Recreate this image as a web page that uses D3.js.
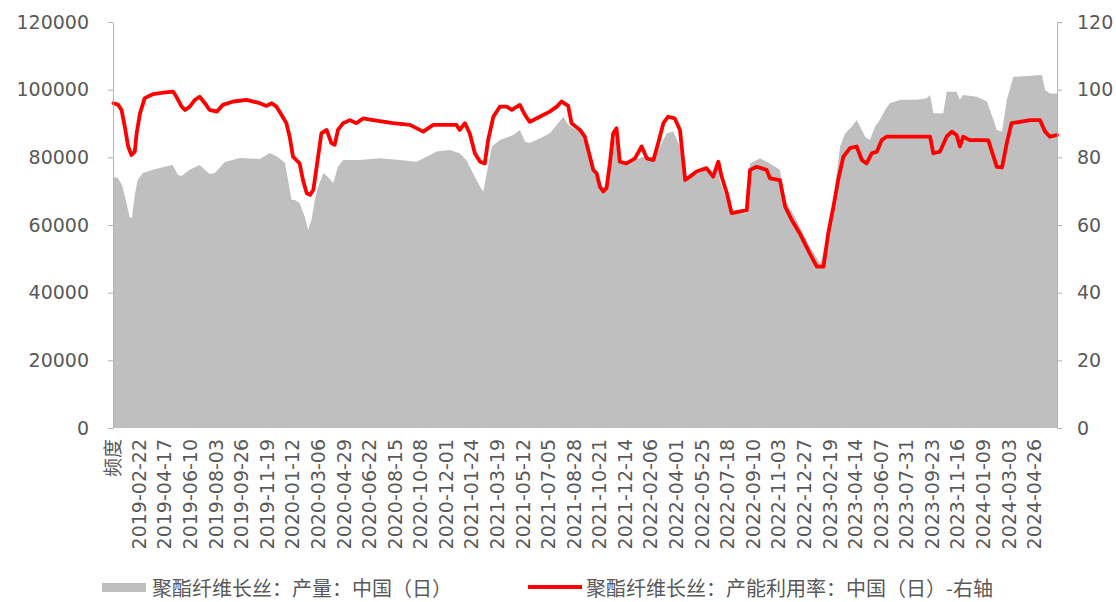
<!DOCTYPE html>
<html>
<head>
<meta charset="utf-8">
<script src="https://cdn.jsdelivr.net/npm/d3@7"></script>
<style>
  html, body { margin: 0; padding: 0; background: #fff; }
  svg { display: block; }
</style>
</head>
<body>
<svg id="chart" width="1116" height="602"></svg>
<script>
// Category axis: the header cell "频度" followed by one category per calendar day
const headerLabel = "频度";
const firstDay = "2018-12-31";
const lastDay = "2024-06-14";
const labelStep = 54;

// 聚酯纤维长丝：产量 (left axis)
const prodDates = [
  "2018-12-31","2019-01-09","2019-01-18","2019-01-26","2019-02-03","2019-02-08","2019-02-14","2019-02-20",
  "2019-03-03","2019-03-24","2019-04-23","2019-05-05","2019-05-16","2019-05-24","2019-06-10","2019-07-01",
  "2019-07-22","2019-08-02","2019-08-23","2019-09-24","2019-11-05","2019-11-26","2019-12-13","2019-12-28",
  "2020-01-04","2020-01-11","2020-01-18","2020-01-28","2020-02-08","2020-02-15","2020-02-22","2020-02-29",
  "2020-03-07","2020-03-18","2020-03-28","2020-04-08","2020-04-18","2020-04-29","2020-06-03","2020-07-15",
  "2020-08-27","2020-10-01","2020-10-22","2020-11-12","2020-12-10","2020-12-31","2021-01-14","2021-01-28",
  "2021-02-12","2021-02-19","2021-02-26","2021-03-09","2021-03-26","2021-04-23","2021-05-07","2021-05-18",
  "2021-05-28","2021-06-18","2021-07-09","2021-07-24","2021-08-07","2021-08-17","2021-08-28","2021-09-11",
  "2021-09-25","2021-10-09","2021-10-23","2021-11-06","2021-11-13","2021-11-20","2021-11-27","2021-12-04",
  "2021-12-18","2022-01-22","2022-02-13","2022-02-27","2022-03-13","2022-03-27","2022-04-10","2022-04-21",
  "2022-05-08","2022-06-05","2022-06-19","2022-06-30","2022-07-03","2022-07-18","2022-08-01","2022-08-29",
  "2022-09-05","2022-09-26","2022-10-17","2022-11-07","2022-11-18","2022-12-12","2023-01-09","2023-01-31",
  "2023-02-14","2023-02-28","2023-03-14","2023-03-25","2023-04-08","2023-04-18","2023-04-25","2023-05-06",
  "2023-05-16","2023-05-27","2023-06-06","2023-06-17","2023-06-27","2023-07-19","2023-08-23","2023-09-13",
  "2023-09-20","2023-09-27","2023-10-18","2023-10-25","2023-11-15","2023-11-22","2023-11-29","2023-12-28",
  "2024-01-18","2024-02-01","2024-02-08","2024-02-19","2024-02-29","2024-03-14","2024-05-13","2024-05-20",
  "2024-05-30","2024-06-14"
];
const prodValues = [
  74200,73900,71800,67400,62400,62100,68900,73300,
  75400,76300,77400,77700,74800,74500,76300,77700,
  75100,75400,78600,79800,79500,81300,80100,78300,
  73000,67400,67400,66500,62400,58500,61500,67400,
  71200,75400,74200,72400,77200,79200,79200,79700,
  79200,78700,80200,81700,82200,81200,79200,75300,
  71300,69900,75300,83200,85100,86600,88100,84600,
  84200,85600,87100,89600,92000,89600,88600,87600,
  83200,76300,71300,71300,78000,84500,85500,79000,
  78200,80200,79200,83200,87100,87600,83200,73300,
  74600,76300,75000,78000,73300,67400,63500,63500,
  78200,79700,78200,76300,67400,61500,53600,48700,
  55600,67400,83200,87100,89100,91000,89100,86100,
  85100,89100,91000,94000,96000,97000,97000,97500,
  98400,93000,93000,99400,99400,97000,98400,97900,
  96500,91000,88100,87600,97000,103800,104300,99900,
  98900,98900
];

// 聚酯纤维长丝：产能利用率 (right axis, %)
const rateDates = [
  "2018-12-31","2019-01-10","2019-01-17","2019-01-24","2019-01-31","2019-02-07","2019-02-14","2019-02-18",
  "2019-02-25","2019-03-07","2019-03-25","2019-04-15","2019-05-06","2019-05-13","2019-05-24","2019-05-31",
  "2019-06-10","2019-06-21","2019-07-01","2019-07-12","2019-07-22","2019-08-06","2019-08-19","2019-09-10",
  "2019-10-08","2019-11-05","2019-11-19","2019-11-30","2019-12-10","2019-12-21","2019-12-31","2020-01-07",
  "2020-01-14","2020-01-21","2020-01-28","2020-02-04","2020-02-12","2020-02-19","2020-02-26","2020-03-04",
  "2020-03-14","2020-03-25","2020-04-04","2020-04-11","2020-04-18","2020-04-29","2020-05-13","2020-05-27",
  "2020-06-10","2020-07-01","2020-08-12","2020-09-17","2020-10-15","2020-11-05","2020-12-24","2020-12-31",
  "2021-01-11","2021-01-21","2021-02-01","2021-02-12","2021-02-22","2021-03-01","2021-03-12","2021-03-26",
  "2021-04-09","2021-04-20","2021-05-07","2021-05-18","2021-05-28","2021-06-18","2021-07-09","2021-07-24",
  "2021-08-03","2021-08-17","2021-08-24","2021-09-11","2021-09-21","2021-10-02","2021-10-09","2021-10-16",
  "2021-10-23","2021-10-30","2021-11-06","2021-11-13","2021-11-20","2021-11-27","2021-12-04","2021-12-18",
  "2022-01-05","2022-01-19","2022-01-30","2022-02-13","2022-02-23","2022-03-06","2022-03-16","2022-03-30",
  "2022-04-10","2022-04-21","2022-05-01","2022-05-15","2022-06-05","2022-06-19","2022-06-30","2022-07-07",
  "2022-07-18","2022-07-28","2022-08-29","2022-09-05","2022-09-19","2022-10-10","2022-10-17","2022-11-07",
  "2022-11-18","2022-12-02","2022-12-19","2023-01-09","2023-01-24","2023-02-07","2023-02-17","2023-02-28",
  "2023-03-10","2023-03-21","2023-04-04","2023-04-18","2023-04-29","2023-05-09","2023-05-20","2023-05-31",
  "2023-06-10","2023-06-20","2023-09-20","2023-09-27","2023-10-11","2023-10-25","2023-11-05","2023-11-15",
  "2023-11-22","2023-11-29","2023-12-13","2024-01-10","2024-01-21","2024-02-01","2024-02-08","2024-02-19",
  "2024-02-29","2024-03-10","2024-03-28","2024-04-18","2024-05-09","2024-05-20","2024-05-30","2024-06-14"
];
const rateValues = [
  96.0,95.5,94.0,89.0,83.2,80.7,81.7,87.2,
  93.0,97.5,98.7,99.1,99.4,97.9,95.0,94.0,
  95.0,97.0,97.9,96.0,94.0,93.5,95.5,96.5,
  97.0,96.0,95.2,96.0,95.0,92.5,90.1,86.1,
  80.2,79.2,78.2,73.3,69.4,68.9,70.4,77.2,
  87.1,88.1,84.2,83.7,88.1,90.1,91.0,90.1,
  91.5,91.0,90.1,89.6,87.6,89.6,89.6,88.1,
  90.1,87.1,81.2,78.7,78.2,85.1,92.0,95.0,
  95.0,94.0,95.5,92.5,90.5,92.0,93.5,95.0,
  96.5,95.2,90.1,88.1,86.1,80.2,76.3,75.3,
  71.3,69.9,70.9,78.2,87.1,88.6,78.7,78.2,
  79.7,83.2,79.7,79.2,84.2,90.1,92.0,91.5,
  88.1,73.3,74.3,75.8,76.8,74.3,78.7,74.3,
  69.4,63.5,64.4,76.3,77.2,76.3,73.8,73.3,
  65.4,61.5,57.5,51.6,47.7,47.7,57.5,65.4,
  73.3,80.2,82.7,83.2,79.2,78.2,81.2,81.7,
  85.1,86.1,86.1,81.2,81.7,86.1,87.6,86.6,
  83.2,86.1,85.1,85.1,85.0,80.2,77.2,77.0,
  84.2,90.1,90.5,91.0,91.0,87.6,86.1,86.6
];

const leftTicks = [0, 20000, 40000, 60000, 80000, 100000, 120000];
const rightTicks = [0, 20, 40, 60, 80, 100, 120];
const prodName = "聚酯纤维长丝：产量：中国（日）";
const rateName = "聚酯纤维长丝：产能利用率：中国（日）-右轴";

// ---- drawing ----
const svg = d3.select("#chart");
const numFont = "'DejaVu Sans', 'Noto Sans CJK SC', sans-serif";
const cjkFont = "'Noto Sans CJK SC', 'DejaVu Sans', sans-serif";
const textColor = "#595959";
const axisColor = "#b4b4b4";

const fmt = d3.utcFormat("%Y-%m-%d");
const parse = d3.utcParse("%Y-%m-%d");
const days = d3.utcDay.range(parse(firstDay), d3.utcDay.offset(parse(lastDay), 1)).map(fmt);
const categories = [headerLabel, ...days];

const plot = { left: 113, right: 1057, top: 22, bottom: 428 };
const x = d3.scalePoint().domain(categories).range([plot.left, plot.right]);
const yL = d3.scaleLinear().domain([0, 120000]).range([plot.bottom, plot.top]);
const yR = d3.scaleLinear().domain([0, 120]).range([plot.bottom, plot.top]);

const prod = prodDates.map((d, i) => ({ date: d, v: prodValues[i] }));
const rate = rateDates.map((d, i) => ({ date: d, v: rateValues[i] }));

// production area
svg.append("path")
  .datum(prod)
  .attr("fill", "#bfbfbf")
  .attr("d", d3.area().x(d => x(d.date)).y0(yL(0)).y1(d => yL(d.v)));

// utilization line
svg.append("path")
  .datum(rate)
  .attr("fill", "none")
  .attr("stroke", "#ff0000")
  .attr("stroke-width", 3.8)
  .attr("stroke-linejoin", "round")
  .attr("stroke-linecap", "round")
  .attr("d", d3.line().x(d => x(d.date)).y(d => yR(d.v)));

function styleAxis(g) {
  g.select(".domain").attr("stroke", axisColor).attr("stroke-width", 1);
  g.selectAll(".tick line").attr("stroke", axisColor);
  g.selectAll(".tick text")
    .attr("fill", textColor)
    .style("font-family", numFont)
    .style("font-size", "19px");
}

// left axis
svg.append("g")
  .attr("transform", `translate(${plot.left},0)`)
  .call(d3.axisLeft(yL).tickValues(leftTicks).tickSize(5).tickSizeOuter(0).tickPadding(19).tickFormat(d3.format("d")))
  .call(styleAxis);

// right axis
svg.append("g")
  .attr("transform", `translate(${plot.right},0)`)
  .call(d3.axisRight(yR).tickValues(rightTicks).tickSize(5).tickSizeOuter(0).tickPadding(15).tickFormat(d3.format("d")))
  .call(styleAxis);

// category axis with vertical labels
const xTicks = categories.filter((d, i) => i % labelStep === 0);
const xg = svg.append("g")
  .attr("transform", `translate(0,${plot.bottom})`)
  .call(d3.axisBottom(x).tickValues(xTicks).tickSize(0));
xg.select(".domain").remove();
xg.selectAll(".tick text")
  .attr("fill", textColor)
  .style("font-family", numFont)
  .style("font-size", "19px")
  .style("text-anchor", "end")
  .attr("transform", "rotate(-90)")
  .attr("x", -11)
  .attr("y", 0)
  .attr("dy", "0.36em");

// legend
const legend = svg.append("g");
legend.append("rect")
  .attr("x", 102).attr("y", 583).attr("width", 44).attr("height", 9)
  .attr("fill", "#bfbfbf");
legend.append("text")
  .attr("x", 152).attr("y", 587)
  .attr("dominant-baseline", "central")
  .attr("fill", textColor)
  .style("font-family", cjkFont)
  .style("font-size", "20px")
  .text(prodName);
legend.append("line")
  .attr("x1", 528).attr("x2", 582).attr("y1", 587).attr("y2", 587)
  .attr("stroke", "#ff0000").attr("stroke-width", 4);
legend.append("text")
  .attr("x", 586).attr("y", 587)
  .attr("dominant-baseline", "central")
  .attr("fill", textColor)
  .style("font-family", cjkFont)
  .style("font-size", "20px")
  .text(rateName);
</script>
</body>
</html>
